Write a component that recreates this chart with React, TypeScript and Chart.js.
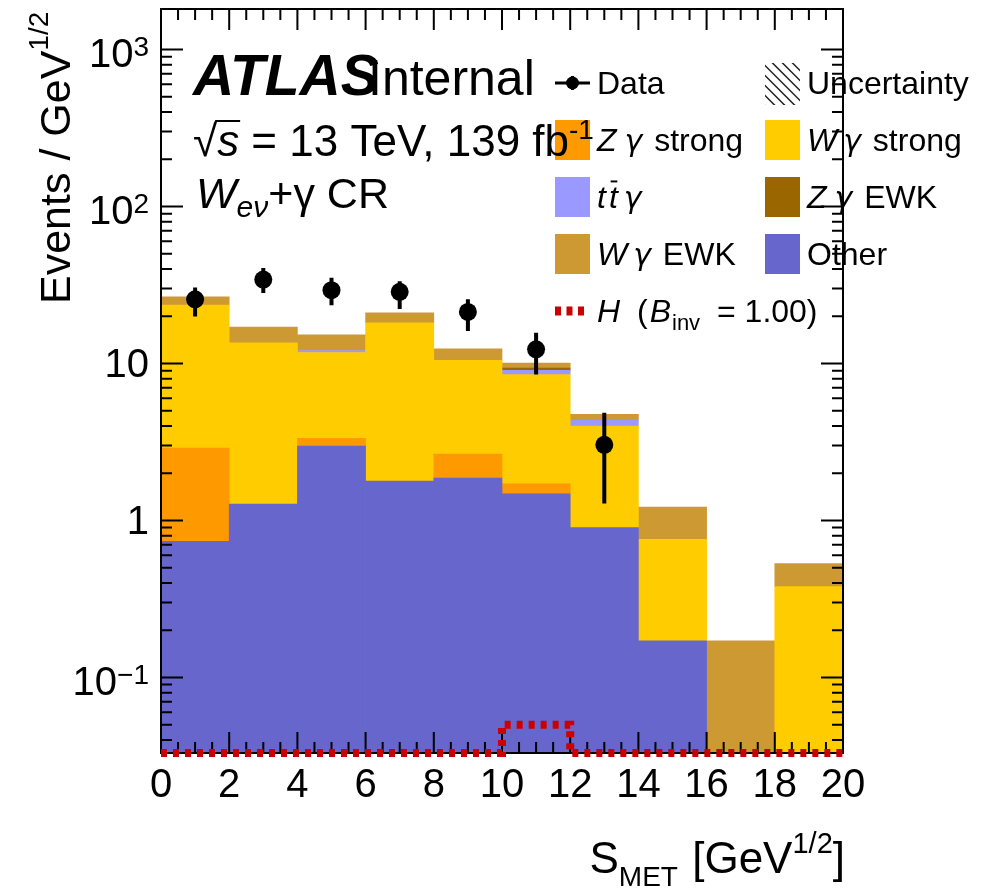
import { useEffect, useRef } from 'react';
import { Chart, registerables } from 'chart.js';

Chart.register(...registerables);

const W = 982;
const H = 890;
const FONT = '"Liberation Sans", Arial, Helvetica, sans-serif';
const GREEK = '"DejaVu Sans", "Liberation Sans", sans-serif';

// Binning in S_MET [GeV^1/2]
const BIN_EDGES = [0, 2, 4, 6, 8, 10, 12, 14, 16, 18, 20];
const BIN_CENTERS = [1, 3, 5, 7, 9, 11, 13, 15, 17, 19];

// Stacked backgrounds in events / GeV^1/2, listed bottom to top
const OTHER = [0.736, 1.27, 2.98, 1.78, 1.86, 1.48, 0.9, 0.171, 0, 0];
const ZG_STRONG = [2.15, 0, 0.36, 0, 0.79, 0.23, 0, 0, 0, 0];
const WG_STRONG = [20.63, 12.25, 8.4, 16.39, 7.8, 6.77, 3.09, 0.587, 0, 0.379];
const TTG = [0, 0, 0.35, 0, 0, 0.55, 0.36, 0, 0, 0];
const ZG_EWK = [0, 0, 0, 0, 0, 0.32, 0, 0, 0, 0];
const WG_EWK = [3.04, 3.55, 3.1, 2.86, 1.94, 0.71, 0.4, 0.459, 0.171, 0.153];

// Invisible Higgs signal, B_inv = 1.00
const H_SIGNAL = [0, 0, 0, 0, 0, 0.05, 0, 0, 0, 0];

// Observed data with asymmetric uncertainties
const DATA_X = [1, 3, 5, 7, 9, 11, 13];
const DATA_Y = [25.6, 34.2, 29.3, 28.6, 21.3, 12.3, 3.03];
const DATA_HI = [30.5, 40.6, 35.2, 33.4, 25.6, 15.7, 4.85];
const DATA_LO = [19.9, 28.1, 23.5, 22.2, 16.1, 8.5, 1.28];

// Axis ranges and tick labels
const X_MIN = 0;
const X_MAX = 20;
const Y_MIN = 0.033;
const Y_MAX = 1811;
const X_TICK_VALUES = [0, 2, 4, 6, 8, 10, 12, 14, 16, 18, 20];
const X_TICK_LABELS = ['0', '2', '4', '6', '8', '10', '12', '14', '16', '18', '20'];
const Y_TICK_VALUES = [0.1, 1, 10, 100, 1000];
const Y_TICK_BASES = ['10', '1', '10', '10', '10'];
const Y_TICK_EXPS = ['\u22121', '', '', '2', '3'];

const COLORS = {
  other: '#6666cc',
  zgStrong: '#ff9900',
  wgStrong: '#ffcc00',
  ttg: '#9999ff',
  zgEwk: '#996600',
  wgEwk: '#cc9933',
  signal: '#cc0000',
};

type Seg = {
  t: string;
  size: number;
  italic?: boolean;
  bold?: boolean;
  greek?: boolean;
  dy?: number;
  bar?: boolean;
  gap?: number;
};

function segFont(s: Seg) {
  return `${s.italic ? 'italic ' : ''}${s.bold ? 'bold ' : ''}${s.size}px ${s.greek ? GREEK : FONT}`;
}

function richWidth(ctx: CanvasRenderingContext2D, segs: Seg[]) {
  let w = 0;
  for (const s of segs) {
    ctx.font = segFont(s);
    w += ctx.measureText(s.t).width + (s.gap || 0);
  }
  return w;
}

function drawRich(
  ctx: CanvasRenderingContext2D,
  x: number,
  y: number,
  segs: Seg[],
  align: 'left' | 'right' | 'center' = 'left'
) {
  const total = richWidth(ctx, segs);
  let cx = align === 'right' ? x - total : align === 'center' ? x - total / 2 : x;
  ctx.textAlign = 'left';
  ctx.textBaseline = 'alphabetic';
  for (const s of segs) {
    ctx.font = segFont(s);
    const w = ctx.measureText(s.t).width;
    const by = y + (s.dy || 0);
    ctx.fillText(s.t, cx, by);
    if (s.bar) {
      ctx.fillRect(cx + w * 0.2, by - s.size * 0.86, w * 0.75, Math.max(1.5, s.size * 0.06));
    }
    cx += w + (s.gap || 0);
  }
  return cx;
}

function drawFrame(chart: Chart) {
  const { ctx, chartArea: a } = chart;
  const xs = chart.scales.x;
  const ys = chart.scales.y;
  ctx.save();
  ctx.strokeStyle = '#000';
  ctx.lineWidth = 2;
  ctx.beginPath();
  for (let k = 0; k <= (X_MAX - X_MIN) * 2; k++) {
    const v = X_MIN + k * 0.5;
    const px = xs.getPixelForValue(v);
    const len = k % 4 === 0 ? 21 : 11;
    ctx.moveTo(px, a.bottom);
    ctx.lineTo(px, a.bottom - len);
    ctx.moveTo(px, a.top);
    ctx.lineTo(px, a.top + len);
  }
  for (let d = -2; d <= 3; d++) {
    for (let m = 1; m <= 9; m++) {
      const v = m * Math.pow(10, d);
      if (v < Y_MIN || v > Y_MAX) continue;
      const py = ys.getPixelForValue(v);
      const len = m === 1 ? 22 : 11;
      ctx.moveTo(a.left, py);
      ctx.lineTo(a.left + len, py);
      ctx.moveTo(a.right, py);
      ctx.lineTo(a.right - len, py);
    }
  }
  ctx.stroke();
  ctx.strokeRect(a.left, a.top, a.right - a.left, a.bottom - a.top);
  ctx.restore();
}

function drawAxisText(chart: Chart) {
  const { ctx, chartArea: a } = chart;
  const xs = chart.scales.x;
  const ys = chart.scales.y;
  ctx.save();
  ctx.fillStyle = '#000';
  X_TICK_VALUES.forEach((v, i) => {
    drawRich(ctx, xs.getPixelForValue(v), a.bottom + 44, [{ t: X_TICK_LABELS[i], size: 40 }], 'center');
  });
  Y_TICK_VALUES.forEach((v, i) => {
    const py = ys.getPixelForValue(v);
    const exp = Y_TICK_EXPS[i];
    const segs: Seg[] = [{ t: Y_TICK_BASES[i], size: 40 }];
    if (exp) segs.push({ t: exp, size: 28, dy: -11 });
    drawRich(ctx, a.left - 12, py + (exp ? 18 : 14), segs, 'right');
  });
  // x title
  drawRich(
    ctx,
    a.right + 2,
    873,
    [
      { t: 'S', size: 44 },
      { t: 'MET', size: 28, dy: 13, gap: 2 },
      { t: ' [GeV', size: 44 },
      { t: '1/2', size: 29, dy: -20 },
      { t: ']', size: 44 },
    ],
    'right'
  );
  // y title
  ctx.translate(70, 304);
  ctx.rotate(-Math.PI / 2);
  drawRich(ctx, 0, 0, [
    { t: 'Events / GeV', size: 43 },
    { t: '1/2', size: 28, dy: -22 },
  ]);
  ctx.restore();
}

function drawErrorBars(chart: Chart) {
  const { ctx } = chart;
  const xs = chart.scales.x;
  const ys = chart.scales.y;
  ctx.save();
  ctx.strokeStyle = '#000';
  ctx.lineWidth = 4;
  ctx.beginPath();
  DATA_X.forEach((x, i) => {
    const px = xs.getPixelForValue(x);
    ctx.moveTo(px, ys.getPixelForValue(DATA_HI[i]));
    ctx.lineTo(px, ys.getPixelForValue(DATA_LO[i]));
  });
  ctx.stroke();
  ctx.restore();
}

function drawLegend(chart: Chart) {
  const { ctx } = chart;
  const col1Box = 555;
  const col2Box = 765;
  const boxW = 35;
  const boxH = 40;
  const rows = [83, 140, 197, 254, 311];
  const fs = 32;
  const text1 = col1Box + 42;
  const text2 = col2Box + 42;
  const base = 11;
  ctx.save();
  ctx.fillStyle = '#000';

  // Data marker
  ctx.strokeStyle = '#000';
  ctx.lineWidth = 3;
  ctx.beginPath();
  ctx.moveTo(col1Box, rows[0]);
  ctx.lineTo(col1Box + boxW, rows[0]);
  ctx.moveTo(col1Box + boxW / 2, rows[0] - 7);
  ctx.lineTo(col1Box + boxW / 2, rows[0] + 7);
  ctx.stroke();
  ctx.beginPath();
  ctx.arc(col1Box + boxW / 2, rows[0], 6.5, 0, Math.PI * 2);
  ctx.fill();
  drawRich(ctx, text1, rows[0] + base, [{ t: 'Data', size: fs }]);

  // Uncertainty hatch
  ctx.save();
  ctx.beginPath();
  ctx.rect(col2Box, rows[0] - 20, boxW, boxH + 2);
  ctx.clip();
  ctx.strokeStyle = '#222';
  ctx.lineWidth = 1.5;
  ctx.beginPath();
  for (let k = -5; k <= 5; k++) {
    const x0 = col2Box + boxW / 2 + k * 10;
    ctx.moveTo(x0 - 25, rows[0] - 25);
    ctx.lineTo(x0 + 25, rows[0] + 25);
  }
  ctx.stroke();
  ctx.restore();
  drawRich(ctx, text2, rows[0] + base, [{ t: 'Uncertainty', size: fs }]);

  const box = (x: number, row: number, color: string) => {
    ctx.fillStyle = color;
    ctx.fillRect(x, row - boxH / 2, boxW, boxH);
    ctx.fillStyle = '#000';
  };

  box(col1Box, rows[1], COLORS.zgStrong);
  drawRich(ctx, text1, rows[1] + base, [
    { t: 'Z', size: fs, italic: true, gap: 8 },
    { t: '\u03b3', size: fs - 2, italic: true, greek: true, gap: 3 },
    { t: ' strong', size: fs },
  ]);
  box(col2Box, rows[1], COLORS.wgStrong);
  drawRich(ctx, text2, rows[1] + base, [
    { t: 'W', size: fs, italic: true, gap: 6 },
    { t: '\u03b3', size: fs - 2, italic: true, greek: true, gap: 3 },
    { t: ' strong', size: fs },
  ]);

  box(col1Box, rows[2], COLORS.ttg);
  drawRich(ctx, text1, rows[2] + base, [
    { t: 't', size: fs, italic: true, gap: 3 },
    { t: 't', size: fs, italic: true, bar: true, gap: 6 },
    { t: '\u03b3', size: fs - 2, italic: true, greek: true },
  ]);
  box(col2Box, rows[2], COLORS.zgEwk);
  drawRich(ctx, text2, rows[2] + base, [
    { t: 'Z', size: fs, italic: true, gap: 8 },
    { t: '\u03b3', size: fs - 2, italic: true, greek: true, gap: 3 },
    { t: ' EWK', size: fs },
  ]);

  box(col1Box, rows[3], COLORS.wgEwk);
  drawRich(ctx, text1, rows[3] + base, [
    { t: 'W', size: fs, italic: true, gap: 6 },
    { t: '\u03b3', size: fs - 2, italic: true, greek: true, gap: 3 },
    { t: ' EWK', size: fs },
  ]);
  box(col2Box, rows[3], COLORS.other);
  drawRich(ctx, text2, rows[3] + base, [{ t: 'Other', size: fs }]);

  // Signal line sample
  ctx.strokeStyle = COLORS.signal;
  ctx.lineWidth = 9;
  ctx.setLineDash([6, 5.5]);
  ctx.beginPath();
  ctx.moveTo(col1Box, rows[4]);
  ctx.lineTo(col1Box + 30, rows[4]);
  ctx.stroke();
  ctx.setLineDash([]);
  drawRich(ctx, text1, rows[4] + base, [
    { t: 'H', size: fs, italic: true, gap: 8 },
    { t: ' (', size: fs, gap: 2 },
    { t: 'B', size: fs, italic: true, gap: 1 },
    { t: 'inv', size: 22, dy: 8, gap: 8 },
    { t: ' = 1.00)', size: fs },
  ]);
  ctx.restore();
}

function drawLabels(chart: Chart) {
  const { ctx } = chart;
  ctx.save();
  ctx.fillStyle = '#000';
  drawRich(ctx, 193, 95, [{ t: 'ATLAS', size: 57, italic: true, bold: true }]);
  drawRich(ctx, 368, 95, [{ t: 'Internal', size: 50 }]);

  // sqrt(s) line with the radical's overbar
  const fs = 44;
  ctx.font = `${fs}px ${FONT}`;
  const rootW = ctx.measureText('\u221a').width;
  ctx.font = `italic ${fs}px ${FONT}`;
  const sW = ctx.measureText('s').width;
  drawRich(ctx, 193, 156, [
    { t: '\u221a', size: fs },
    { t: 's', size: fs, italic: true },
    { t: ' = 13 TeV, 139 fb', size: fs },
    { t: '-1', size: 28, dy: -17 },
  ]);
  ctx.fillRect(193 + rootW - 2, 156 - 36, sW + 3, 2);

  drawRich(ctx, 196, 208, [
    { t: 'W', size: 43, italic: true },
    { t: 'e\u03bd', size: 30, italic: true, dy: 9 },
    { t: '+\u03b3 CR', size: 43 },
  ]);
  ctx.restore();
}

const decorPlugin = {
  id: 'histDecorations',
  afterDatasetDraw(chart: Chart, args: { index: number }) {
    // bars are drawn last-to-first, so dataset 0 closes the stack
    if (args.index === 0) drawFrame(chart);
  },
  afterDatasetsDraw(chart: Chart) {
    drawErrorBars(chart);
  },
  afterDraw(chart: Chart) {
    drawAxisText(chart);
    drawLegend(chart);
    drawLabels(chart);
  },
};

function barSet(label: string, values: number[], color: string) {
  return {
    type: 'bar' as const,
    label,
    data: BIN_CENTERS.map((x, i) => ({ x, y: values[i] })).filter((p) => p.y > 0),
    backgroundColor: color,
    borderWidth: 0,
    barPercentage: 1,
    categoryPercentage: 1,
    stack: 'background',
    order: 3,
  };
}

export default function App() {
  const ref = useRef<HTMLCanvasElement>(null);

  useEffect(() => {
    if (!ref.current) return;
    // values below the axis floor sit on the bottom edge
    const signalPoints = BIN_EDGES.map((x, i) => ({
      x,
      y: Math.max(H_SIGNAL[Math.min(i, H_SIGNAL.length - 1)], Y_MIN),
    }));

    const chart = new Chart(ref.current, {
      type: 'bar',
      data: {
        datasets: [
          barSet('Other', OTHER, COLORS.other),
          barSet('Z\u03b3 strong', ZG_STRONG, COLORS.zgStrong),
          barSet('W\u03b3 strong', WG_STRONG, COLORS.wgStrong),
          barSet('tt\u03b3', TTG, COLORS.ttg),
          barSet('Z\u03b3 EWK', ZG_EWK, COLORS.zgEwk),
          barSet('W\u03b3 EWK', WG_EWK, COLORS.wgEwk),
          {
            type: 'line' as const,
            label: 'H (B_inv = 1.00)',
            data: signalPoints,
            borderColor: COLORS.signal,
            borderWidth: 8,
            borderDash: [6, 6],
            borderCapStyle: 'butt',
            stepped: 'before',
            pointRadius: 0,
            fill: false,
            tension: 0,
            clip: false,
            stack: 'signal',
            order: 2,
          } as any,
          {
            type: 'line' as const,
            label: 'Data',
            data: DATA_X.map((x, i) => ({ x, y: DATA_Y[i] })),
            showLine: false,
            pointRadius: 9,
            pointBackgroundColor: '#000',
            pointBorderColor: '#000',
            pointBorderWidth: 0,
            stack: 'observed',
            order: 1,
          } as any,
        ],
      },
      options: {
        responsive: false,
        animation: false,
        devicePixelRatio: 1,
        events: [],
        layout: { padding: { left: 0, right: 139, top: 7, bottom: 0 } },
        plugins: { legend: { display: false }, tooltip: { enabled: false }, title: { display: false } },
        scales: {
          x: {
            type: 'linear',
            min: X_MIN,
            max: X_MAX,
            offset: false,
            ticks: { display: false, stepSize: 2 },
            grid: { display: false },
            border: { display: false },
            afterFit: (s: any) => {
              s.height = 137;
            },
          },
          y: {
            type: 'logarithmic',
            min: Y_MIN,
            max: Y_MAX,
            stacked: true,
            ticks: { display: false },
            grid: { display: false },
            border: { display: false },
            afterFit: (s: any) => {
              s.width = 161;
            },
          },
        },
      },
      plugins: [decorPlugin as any],
    });
    return () => chart.destroy();
  }, []);

  return (
    <div style={{ position: 'absolute', left: 0, top: 0, width: W, height: H, background: '#fff' }}>
      <canvas ref={ref} width={W} height={H} style={{ width: W, height: H, display: 'block' }} />
    </div>
  );
}
